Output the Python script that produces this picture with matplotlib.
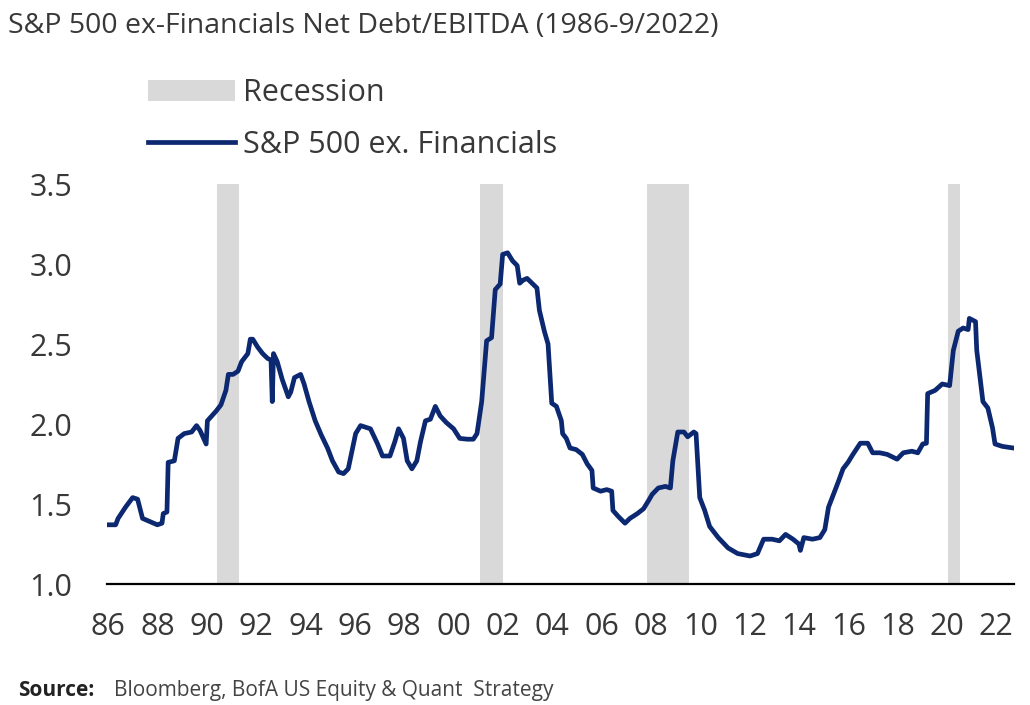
import matplotlib
matplotlib.use("Agg")
import matplotlib.pyplot as plt
from matplotlib.patches import Patch
from matplotlib.lines import Line2D

plt.rcParams["font.family"] = ["Open Sans", "DejaVu Sans"]

# Net debt / EBITDA, S&P 500 ex-financials (decimal year, ratio)
years = [
    1986.0, 1986.3, 1986.4, 1986.7, 1986.99, 1987.19, 1987.39, 1987.69, 1987.99, 1988.18,
    1988.23, 1988.38, 1988.43, 1988.68, 1988.83, 1989.08, 1989.38, 1989.58, 1989.72, 1989.97,
    1990.02, 1990.37, 1990.57, 1990.77, 1990.87, 1991.06, 1991.26, 1991.41, 1991.66, 1991.76,
    1991.86, 1992.06, 1992.26, 1992.46, 1992.6, 1992.65, 1992.7, 1992.85, 1993.05, 1993.3,
    1993.4, 1993.55, 1993.8, 1993.94, 1994.14, 1994.39, 1994.64, 1994.89, 1995.09, 1995.34,
    1995.54, 1995.73, 1996.03, 1996.23, 1996.63, 1996.92, 1997.12, 1997.42, 1997.62, 1997.77,
    1997.97, 1998.12, 1998.31, 1998.51, 1998.66, 1998.86, 1999.06, 1999.26, 1999.46, 1999.7,
    2000.0, 2000.25, 2000.55, 2000.8, 2000.95, 2001.14, 2001.34, 2001.54, 2001.69, 2001.89,
    2001.99, 2002.19, 2002.39, 2002.58, 2002.68, 2002.83, 2002.98, 2003.18, 2003.38, 2003.48,
    2003.68, 2003.83, 2003.98, 2004.17, 2004.37, 2004.42, 2004.57, 2004.72, 2004.97, 2005.22,
    2005.42, 2005.61, 2005.66, 2005.96, 2006.21, 2006.41, 2006.46, 2006.66, 2006.95, 2007.15,
    2007.45, 2007.7, 2007.9, 2008.05, 2008.3, 2008.59, 2008.79, 2008.89, 2009.09, 2009.34,
    2009.49, 2009.74, 2009.83, 2009.98, 2010.18, 2010.38, 2010.73, 2011.13, 2011.52, 2012.02,
    2012.32, 2012.57, 2012.91, 2013.21, 2013.46, 2013.76, 2014.0, 2014.06, 2014.2, 2014.55,
    2014.85, 2015.05, 2015.2, 2015.4, 2015.6, 2015.79, 2015.99, 2016.19, 2016.49, 2016.79,
    2016.99, 2017.28, 2017.58, 2017.98, 2018.23, 2018.58, 2018.82, 2019.02, 2019.17, 2019.22,
    2019.52, 2019.81, 2020.11, 2020.26, 2020.46, 2020.66, 2020.86, 2020.91, 2021.16, 2021.21,
    2021.46, 2021.66, 2021.85, 2021.95, 2022.25, 2022.69,
]
net_debt_ebitda = [
    1.37, 1.37, 1.41, 1.48, 1.54, 1.53, 1.41, 1.39, 1.37, 1.38,
    1.44, 1.45, 1.76, 1.77, 1.91, 1.94, 1.95, 1.99, 1.96, 1.875,
    2.02, 2.08, 2.12, 2.21, 2.31, 2.31, 2.33, 2.39, 2.44, 2.53,
    2.53, 2.48, 2.44, 2.41, 2.40, 2.14, 2.44, 2.39, 2.28, 2.17,
    2.20, 2.29, 2.31, 2.25, 2.14, 2.02, 1.93, 1.85, 1.77, 1.70,
    1.69, 1.72, 1.94, 1.99, 1.97, 1.875, 1.80, 1.80, 1.89, 1.97,
    1.91, 1.77, 1.72, 1.77, 1.89, 2.02, 2.03, 2.11, 2.05, 2.01,
    1.97, 1.91, 1.905, 1.905, 1.94, 2.14, 2.52, 2.54, 2.84, 2.875,
    3.06, 3.07, 3.02, 2.99, 2.88, 2.90, 2.91, 2.88, 2.85, 2.71,
    2.58, 2.50, 2.13, 2.11, 2.02, 1.94, 1.91, 1.85, 1.84, 1.81,
    1.75, 1.71, 1.60, 1.58, 1.59, 1.58, 1.46, 1.425, 1.38, 1.41,
    1.44, 1.47, 1.52, 1.56, 1.60, 1.61, 1.60, 1.77, 1.95, 1.95,
    1.92, 1.95, 1.94, 1.54, 1.46, 1.36, 1.29, 1.225, 1.19, 1.175,
    1.19, 1.28, 1.28, 1.27, 1.31, 1.28, 1.25, 1.21, 1.29, 1.28,
    1.29, 1.34, 1.48, 1.56, 1.64, 1.72, 1.76, 1.81, 1.88, 1.88,
    1.82, 1.82, 1.81, 1.78, 1.82, 1.83, 1.82, 1.875, 1.88, 2.19,
    2.21, 2.25, 2.24, 2.46, 2.58, 2.60, 2.59, 2.66, 2.64, 2.46,
    2.14, 2.10, 1.975, 1.875, 1.86, 1.85,
]

# NBER recessions (start, end)
recessions = [(1990.42, 1991.31), (2001.08, 2002.01), (2007.85, 2009.55), (2020.05, 2020.54)]

tick_years = list(range(1986, 2023, 2))
tick_labels = [f"{y % 100:02d}" for y in tick_years]
y_ticks = [1.0, 1.5, 2.0, 2.5, 3.0, 3.5]

navy = "#0c2870"
text_grey = "#383838"

W, H = 1030, 705
fig = plt.figure(figsize=(W / 100, H / 100), dpi=100)
fig.patch.set_facecolor("white")

# axes box in pixel terms: left 107, right 1014, bottom 584, top 184
ax = fig.add_axes([107 / W, (H - 584) / H, (1014 - 107) / W, 400 / H])

for start, end in recessions:
    ax.axvspan(start, end, color="#d9d9d9", lw=0, zorder=1)

ax.plot(years, net_debt_ebitda, color=navy, lw=3.4, solid_joinstyle="round", zorder=3)

ax.set_xlim(1985.95, 2022.72)
ax.set_ylim(1.0, 3.5)
ax.set_xticks(tick_years)
ax.set_xticklabels(tick_labels)
ax.set_yticks(y_ticks)
ax.set_yticklabels([f"{v:.1f}" for v in y_ticks])
ax.tick_params(axis="x", length=0, pad=20, labelsize=22, colors=text_grey)
ax.tick_params(axis="y", length=0, pad=25, labelsize=22, colors=text_grey)
for side in ("left", "right", "top"):
    ax.spines[side].set_visible(False)
ax.spines["bottom"].set_color("black")
ax.spines["bottom"].set_linewidth(1.6)
ax.spines["bottom"].set_zorder(4)

handles = [
    Patch(facecolor="#d9d9d9", edgecolor="none", label="Recession"),
    Line2D([], [], color=navy, lw=3.4, label="S&P 500 ex. Financials"),
]
fig.legend(
    handles=handles,
    loc="upper left",
    bbox_to_anchor=(148 / W, 1 - 78 / H),
    frameon=False,
    fontsize=22,
    handlelength=2.85,
    handletextpad=0.26,
    labelspacing=0.72,
    borderpad=0,
    borderaxespad=0,
    labelcolor=text_grey,
)

fig.text(8 / W, 1 - 33 / H, "S&P 500 ex-Financials Net Debt/EBITDA (1986-9/2022)",
         fontsize=20.5, color=text_grey, va="baseline", ha="left")

fig.text(18 / W, 1 - 696 / H, "Source:", fontsize=15, fontweight="bold",
         color="#222222", va="baseline", ha="left")
fig.text(114 / W, 1 - 696 / H, "Bloomberg, BofA US Equity & Quant  Strategy",
         fontsize=15, color="#444444", va="baseline", ha="left")

fig.savefig("out.png", dpi=100)
